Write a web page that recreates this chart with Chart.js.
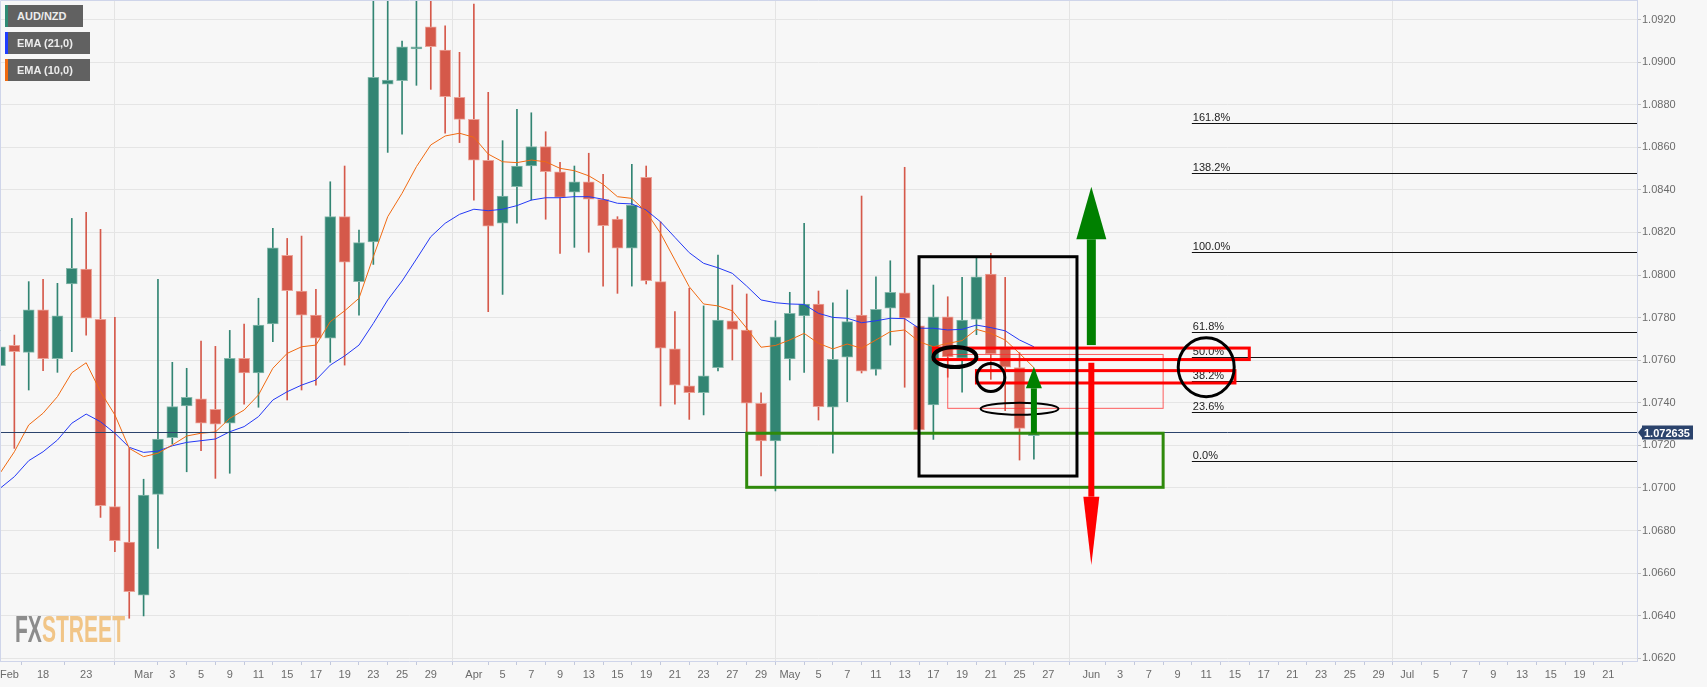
<!DOCTYPE html>
<html>
<head>
<meta charset="utf-8">
<script src="https://cdn.jsdelivr.net/npm/chart.js@4.4.0/dist/chart.umd.min.js"></script>
<style>
  html, body { margin: 0; padding: 0; background: #f7f7f7; }
  #wrap { position: relative; width: 1707px; height: 687px; overflow: hidden; }
  canvas { display: block; }
  .tag {
    position: absolute; left: 5px; height: 22px;
    background: #616161; color: #ececec; box-sizing: border-box;
    font: bold 11px "Liberation Sans", Arial, sans-serif;
    line-height: 22px;
    padding-left: 9px; border-left: 3px solid;
  }
</style>
</head>
<body>
<div id="wrap">
  <canvas id="chart" width="1707" height="687"></canvas>
  <div class="tag" style="top:5px;width:78px;border-color:#2f8a74">AUD/NZD</div>
  <div class="tag" style="top:32px;width:85px;border-color:#1f3dff">EMA (21,0)</div>
  <div class="tag" style="top:59px;width:85px;border-color:#f06a10">EMA (10,0)</div>
</div>
<script>
// daily AUD/NZD candles
const dates = [
  '2021-02-15','2021-02-16','2021-02-17','2021-02-18','2021-02-19','2021-02-22','2021-02-23','2021-02-24','2021-02-25','2021-02-26',
  '2021-03-01','2021-03-02','2021-03-03','2021-03-04','2021-03-05','2021-03-08','2021-03-09','2021-03-10','2021-03-11','2021-03-12',
  '2021-03-15','2021-03-16','2021-03-17','2021-03-18','2021-03-19','2021-03-22','2021-03-23','2021-03-24','2021-03-25','2021-03-26',
  '2021-03-29','2021-03-30','2021-03-31',
  '2021-04-01','2021-04-02','2021-04-05','2021-04-06','2021-04-07','2021-04-08','2021-04-09','2021-04-12','2021-04-13','2021-04-14',
  '2021-04-15','2021-04-16','2021-04-19','2021-04-20','2021-04-21','2021-04-22','2021-04-23','2021-04-26','2021-04-27','2021-04-28',
  '2021-04-29','2021-04-30',
  '2021-05-03','2021-05-04','2021-05-05','2021-05-06','2021-05-07','2021-05-10','2021-05-11','2021-05-12','2021-05-13','2021-05-14',
  '2021-05-17','2021-05-18','2021-05-19','2021-05-20','2021-05-21','2021-05-24','2021-05-25','2021-05-26'
];
const open = [
  1.07574,1.07670,1.07637,1.07837,1.07607,1.07958,1.08028,1.07792,1.06912,1.06746,
  1.06497,1.06970,1.07236,1.07385,1.07419,1.07369,1.07304,1.07609,1.07540,1.07770,1.08093,1.07925,1.07812,1.07703,1.08274,1.07969,1.08156,1.08896,1.08913,1.09062,1.09166,1.09057,1.08835,
  1.08731,1.08539,1.08243,1.08415,1.08512,1.08603,1.08485,1.08389,1.08438,1.08356,1.08263,1.08126,1.08459,1.07969,1.07653,1.07480,1.07447,1.07565,1.07785,1.07742,1.07398,1.07221,
  1.07606,1.07808,1.07864,1.07379,1.07614,1.07812,1.07557,1.07844,1.07917,1.07761,1.07390,1.07804,1.07609,1.07792,1.08005,1.07663,1.07565,1.07245
];
const high = [
  1.07845,1.07718,1.07969,1.07980,1.07961,1.08266,1.08295,1.08215,1.07801,1.07186,
  1.07041,1.07980,1.07590,1.07562,1.07690,1.07665,1.07740,1.07770,1.07891,1.08219,1.08172,1.08183,1.07933,1.08438,1.08512,1.08211,1.09350,1.09350,1.09099,1.09350,1.09350,1.09170,1.09046,
  1.09273,1.08858,1.08631,1.08778,1.08762,1.08673,1.08529,1.08512,1.08572,1.08473,1.08274,1.08520,1.08512,1.08250,1.07828,1.07938,1.07855,1.08094,1.07953,1.07911,1.07447,1.07785,
  1.07919,1.08243,1.07925,1.07870,1.07930,1.08371,1.07992,1.08067,1.08506,1.07780,1.07953,1.07898,1.07989,1.08079,1.08102,1.07989,1.07635,1.07310
];
const low = [
  1.07382,1.07186,1.07460,1.07551,1.07543,1.07640,1.07718,1.06862,1.06701,1.06388,
  1.06399,1.06716,1.07206,1.07076,1.07175,1.07045,1.07069,1.07393,1.07379,1.07687,1.07413,1.07460,1.07483,1.07590,1.07577,1.07812,1.08050,1.08576,1.08661,1.08891,1.08872,1.08666,1.08622,
  1.08352,1.07828,1.07909,1.08243,1.08352,1.08262,1.08102,1.08130,1.08107,1.07948,1.07914,1.07948,1.07958,1.07385,1.07393,1.07322,1.07343,1.07550,1.07601,1.07263,1.07056,1.06986,
  1.07507,1.07543,1.07319,1.07163,1.07405,1.07540,1.07530,1.07671,1.07473,1.07260,1.07228,1.07520,1.07450,1.07720,1.07510,1.07363,1.07131,1.07135
];
const close = [
  1.07663,1.07640,1.07837,1.07607,1.07808,1.08032,1.07797,1.06917,1.06752,1.06513,
  1.06967,1.07230,1.07382,1.07426,1.07304,1.07300,1.07609,1.07540,1.07765,1.08128,1.07926,1.07812,1.07703,1.08274,1.08060,1.08152,1.08929,1.08916,1.09072,1.09072,1.09072,1.08838,1.08731,
  1.08539,1.08230,1.08371,1.08512,1.08603,1.08485,1.08365,1.08438,1.08356,1.08232,1.08126,1.08329,1.07973,1.07656,1.07483,1.07447,1.07527,1.07789,1.07745,1.07398,1.07221,1.07710,
  1.07820,1.07864,1.07382,1.07604,1.07781,1.07549,1.07839,1.07919,1.07797,1.07272,1.07804,1.07616,1.07789,1.07992,1.07629,1.07567,1.07280,1.07263
];
const ema10 = [
  1.07069,1.07170,1.07296,1.07351,1.07429,1.07541,1.07588,1.07452,1.07343,1.07186,
  1.07147,1.07163,1.07202,1.07244,1.07257,1.07263,1.07327,1.07366,1.07437,1.07562,1.07632,1.07663,1.07671,1.07781,1.07832,1.07891,1.08086,1.08274,1.08384,1.08509,1.08611,1.08653,1.08666,
  1.08647,1.08568,1.08532,1.08528,1.08540,1.08532,1.08501,1.08490,1.08466,1.08426,1.08368,1.08360,1.08297,1.08196,1.08071,1.07945,1.07864,1.07855,1.07832,1.07750,1.07661,1.07669,
  1.07695,1.07726,1.07679,1.07653,1.07676,1.07656,1.07695,1.07734,1.07742,1.07687,1.07663,1.07679,1.07692,1.07745,1.07726,1.07695,1.07632,1.07565
];
const ema21 = [
  1.06998,1.07053,1.07128,1.07170,1.07225,1.07304,1.07347,1.07311,1.07257,1.07191,
  1.07167,1.07173,1.07198,1.07214,1.07222,1.07230,1.07264,1.07288,1.07335,1.07413,1.07452,1.07483,1.07507,1.07577,1.07620,1.07671,1.07773,1.07883,1.07972,1.08075,1.08180,1.08243,1.08285,
  1.08309,1.08302,1.08309,1.08326,1.08352,1.08363,1.08363,1.08368,1.08368,1.08356,1.08337,1.08334,1.08305,1.08250,1.08177,1.08105,1.08055,1.08034,1.08008,1.07948,1.07883,1.07870,
  1.07864,1.07862,1.07820,1.07801,1.07797,1.07776,1.07785,1.07797,1.07795,1.07750,1.07750,1.07742,1.07745,1.07765,1.07753,1.07738,1.07695,1.07663
];

// axis ticks
const xTickDates = [
  '2021-02-15','2021-02-18','2021-02-23','2021-03-01','2021-03-03','2021-03-05','2021-03-09','2021-03-11','2021-03-15','2021-03-17',
  '2021-03-19','2021-03-23','2021-03-25','2021-03-29','2021-04-01','2021-04-05','2021-04-07','2021-04-09','2021-04-13','2021-04-15',
  '2021-04-19','2021-04-21','2021-04-23','2021-04-27','2021-04-29','2021-05-03','2021-05-05','2021-05-07','2021-05-11','2021-05-13',
  '2021-05-17','2021-05-19','2021-05-21','2021-05-25','2021-05-27','2021-06-01','2021-06-03','2021-06-07','2021-06-09','2021-06-11',
  '2021-06-15','2021-06-17','2021-06-21','2021-06-23','2021-06-25','2021-06-29','2021-07-01','2021-07-05','2021-07-07','2021-07-09',
  '2021-07-13','2021-07-15','2021-07-19','2021-07-21'
];
const xTickLabels = [
  'Feb','18','23','Mar','3','5','9','11','15','17',
  '19','23','25','29','Apr','5','7','9','13','15',
  '19','21','23','27','29','May','5','7','11','13',
  '17','19','21','25','27','Jun','3','7','9','11',
  '15','17','21','23','25','29','Jul','5','7','9',
  '13','15','19','21'
];
const monthLabels = ['Mar', 'Apr', 'May', 'Jun', 'Jul'];
const yTicks = [1.062,1.064,1.066,1.068,1.070,1.072,1.074,1.076,1.078,1.080,1.082,1.084,1.086,1.088,1.090,1.092];

// analyst drawings (x in trading days from the first candle, y in price)
const lastPrice = 1.072635;
const fibLow = 1.07127, fibHigh = 1.08107, fibFrom = 83;
const fibLevels = [0, 0.236, 0.382, 0.5, 0.618, 1, 1.382, 1.618];
const boxes = [
  { x0: 52, x1: 81, y0: 1.07003, y1: 1.07257, color: '#2f8a0c', w: 3 },
  { x0: 66, x1: 81, y0: 1.07374, y1: 1.07627, color: 'rgba(255,40,40,0.75)', w: 1 },
  { x0: 65, x1: 87, y0: 1.07603, y1: 1.07657, color: '#ff0000', w: 3 },
  { x0: 68, x1: 86, y0: 1.07493, y1: 1.07551, color: '#ff0000', w: 3 },
  { x0: 64, x1: 75, y0: 1.07056, y1: 1.08086, color: '#000000', w: 3 }
];
const rings = [
  { x: 66.5, y: 1.07615, rx: 21.5, ry: 10, w: 4 },
  { x: 69, y: 1.07519, rx: 14, ry: 14, w: 3 },
  { x: 71, y: 1.07372, rx: 39, ry: 6, w: 2 },
  { x: 84, y: 1.07567, rx: 28, ry: 29.5, w: 3 }
];
const arrows = [
  { x: 76, from: 1.07671, head: 1.08168, tip: 1.08415, shaft: 9, headW: 30, color: '#008000' },
  { x: 76, from: 1.07588, head: 1.06959, tip: 1.06638, shaft: 6, headW: 16, color: '#ff0000' },
  { x: 72, from: 1.07257, head: 1.07468, tip: 1.07569, shaft: 6, headW: 16, color: '#008000' }
];

const upCol = '#328573', downCol = '#d5594a';
const isUp = i => close[i] >= open[i];

const dayIndex = d => {
  let n = 0;
  const end = new Date(d + 'T00:00:00Z');
  for (let c = new Date(dates[0] + 'T00:00:00Z'); c < end; c.setUTCDate(c.getUTCDate() + 1)) {
    const w = c.getUTCDay();
    if (w > 0 && w < 6) n++;
  }
  return n;
};
const xTicks = xTickDates.map((d, i) => ({ value: dayIndex(d), label: xTickLabels[i] }));
xTicks.push({ value: 114, label: '' });
const monthPos = xTicks.filter(t => monthLabels.includes(t.label)).map(t => t.value);

const font = { family: '"Liberation Sans", Arial, sans-serif', size: 11 };

const drawings = {
  id: 'drawings',
  beforeDatasetsDraw(chart) {
    const ctx = chart.ctx;
    // FXSTREET mark
    ctx.save();
    ctx.font = 'bold 36px "Liberation Sans", Arial, sans-serif';
    const full = ctx.measureText('FXSTREET').width;
    const fx = ctx.measureText('FX').width;
    ctx.translate(15, 641.5);
    ctx.scale(110 / full, 1);
    ctx.textBaseline = 'alphabetic';
    ctx.fillStyle = '#8c8c8c';
    ctx.fillText('FX', 0, 0);
    ctx.fillStyle = '#f1c587';
    ctx.fillText('STREET', fx, 0);
    ctx.restore();
  },
  afterDatasetsDraw(chart) {
    const { ctx, chartArea: a } = chart;
    const X = v => chart.scales.x.getPixelForValue(v);
    const Y = v => chart.scales.y.getPixelForValue(v);
    ctx.save();
    ctx.beginPath();
    ctx.rect(a.left, a.top, a.right - a.left, a.bottom - a.top);
    ctx.clip();

    // last price line
    ctx.strokeStyle = '#2b436c';
    ctx.lineWidth = 1;
    ctx.beginPath();
    ctx.moveTo(a.left, Math.round(Y(lastPrice)) + 0.5);
    ctx.lineTo(a.right, Math.round(Y(lastPrice)) + 0.5);
    ctx.stroke();

    // fibonacci levels
    ctx.font = '11px "Liberation Sans", Arial, sans-serif';
    ctx.fillStyle = '#222';
    ctx.textBaseline = 'alphabetic';
    fibLevels.forEach(l => {
      const yy = Math.round(Y(fibLow + (fibHigh - fibLow) * l)) + 0.5;
      ctx.strokeStyle = '#111';
      ctx.lineWidth = 1.2;
      ctx.beginPath();
      ctx.moveTo(X(fibFrom), yy);
      ctx.lineTo(a.right, yy);
      ctx.stroke();
      ctx.fillText((l * 100).toFixed(1) + '%', X(fibFrom) + 1, yy - 3);
    });

    boxes.forEach(b => {
      ctx.strokeStyle = b.color;
      ctx.lineWidth = b.w;
      ctx.strokeRect(X(b.x0), Y(b.y1), X(b.x1) - X(b.x0), Y(b.y0) - Y(b.y1));
    });

    ctx.strokeStyle = '#000';
    rings.forEach(r => {
      ctx.lineWidth = r.w;
      ctx.beginPath();
      ctx.ellipse(X(r.x), Y(r.y), r.rx, r.ry, 0, 0, Math.PI * 2);
      ctx.stroke();
    });

    arrows.forEach(ar => {
      const cx = X(ar.x), y0 = Y(ar.from), y1 = Y(ar.head), y2 = Y(ar.tip);
      ctx.fillStyle = ar.color;
      ctx.fillRect(cx - ar.shaft / 2, Math.min(y0, y1), ar.shaft, Math.abs(y1 - y0));
      ctx.beginPath();
      ctx.moveTo(cx - ar.headW / 2, y1);
      ctx.lineTo(cx + ar.headW / 2, y1);
      ctx.lineTo(cx, y2);
      ctx.closePath();
      ctx.fill();
    });
    ctx.restore();
  },
  afterDraw(chart) {
    const { ctx, chartArea: a } = chart;
    const Y = v => chart.scales.y.getPixelForValue(v);
    ctx.save();
    ctx.strokeStyle = '#cfd5ea';
    ctx.lineWidth = 1;
    ctx.beginPath();
    ctx.moveTo(a.left + 0.5, a.bottom);
    ctx.lineTo(a.left + 0.5, a.top + 0.5);
    ctx.lineTo(a.right, a.top + 0.5);
    ctx.stroke();

    // last price tag
    const yy = Math.round(Y(lastPrice)) + 0.5;
    const x0 = a.right + 3;
    ctx.fillStyle = '#2b436c';
    ctx.beginPath();
    ctx.moveTo(x0 - 2, yy);
    ctx.lineTo(x0 + 2, yy - 5);
    ctx.lineTo(x0 + 2, yy - 7);
    ctx.lineTo(x0 + 53, yy - 7);
    ctx.lineTo(x0 + 53, yy + 7);
    ctx.lineTo(x0 + 2, yy + 7);
    ctx.lineTo(x0 + 2, yy + 5);
    ctx.closePath();
    ctx.fill();
    ctx.fillStyle = '#fff';
    ctx.font = 'bold 11px "Liberation Sans", Arial, sans-serif';
    ctx.textBaseline = 'middle';
    ctx.fillText(lastPrice.toFixed(6), x0 + 4, yy + 1);
    ctx.restore();
  }
};

new Chart(document.getElementById('chart'), {
  data: {
    datasets: [
      {
        type: 'line', label: 'EMA (10,0)', order: 0, clip: 0,
        data: ema10.map((v, i) => ({ x: i, y: v })),
        borderColor: '#f06a12', borderWidth: 1, pointRadius: 0, tension: 0
      },
      {
        type: 'line', label: 'EMA (21,0)', order: 1, clip: 0,
        data: ema21.map((v, i) => ({ x: i, y: v })),
        borderColor: '#2338f5', borderWidth: 1, pointRadius: 0, tension: 0
      },
      {
        type: 'bar', label: 'body', order: 2, clip: 0, grouped: false,
        data: dates.map((d, i) => ({ x: i, y: [open[i], close[i]] })),
        barThickness: 11, minBarLength: 2, borderWidth: 1, borderSkipped: false,
        backgroundColor: c => isUp(c.dataIndex) ? upCol : downCol,
        borderColor: c => isUp(c.dataIndex) ? '#86b8ab' : '#eba398'
      },
      {
        type: 'bar', label: 'wick', order: 3, clip: 0, grouped: false,
        data: dates.map((d, i) => ({ x: i, y: [low[i], high[i]] })),
        barThickness: 1,
        backgroundColor: c => isUp(c.dataIndex) ? upCol : downCol
      }
    ]
  },
  options: {
    responsive: false,
    animation: false,
    devicePixelRatio: 1,
    events: [],
    layout: { padding: 0 },
    plugins: { legend: { display: false }, tooltip: { enabled: false } },
    scales: {
      x: {
        type: 'linear', min: 0, max: 114, offset: false,
        afterBuildTicks: s => { s.ticks = xTicks.map(t => ({ value: t.value })); },
        afterFit: s => { s.height = 26; s.paddingLeft = 0; s.paddingRight = 0; },
        ticks: {
          autoSkip: false, maxRotation: 0, padding: 3, align: 'inner',
          color: '#6b6b6b', font: font,
          callback: (v, i) => xTicks[i] ? xTicks[i].label : ''
        },
        grid: {
          color: c => c.tick && monthPos.includes(c.tick.value) ? '#e4e4e4' : 'rgba(0,0,0,0)',
          tickLength: 4, tickColor: '#c3c9dc'
        },
        border: { color: '#cfd5ea' }
      },
      y: {
        type: 'linear', position: 'right', min: 1.061873, max: 1.092917,
        afterBuildTicks: s => { s.ticks = yTicks.map(v => ({ value: v })); },
        afterFit: s => { s.width = 70; s.paddingTop = 0; s.paddingBottom = 0; },
        ticks: { padding: 1, color: '#6b6b6b', font: font, callback: v => v.toFixed(4) },
        grid: { color: '#e5e5e5', tickLength: 4, tickColor: '#c3c3c3' },
        border: { color: '#cfd5ea' }
      }
    }
  },
  plugins: [drawings]
});
</script>
</body>
</html>
